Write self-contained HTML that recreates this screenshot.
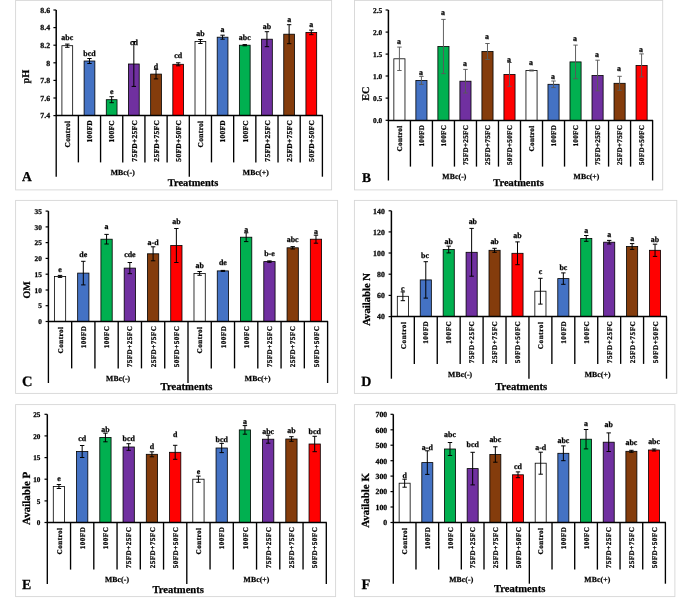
<!DOCTYPE html>
<html lang="en">
<head>
<meta charset="utf-8">
<title>Soil properties under treatments</title>
<style>
html,body{margin:0;padding:0;background:#fff;}
body{width:685px;height:607px;overflow:hidden;}
svg{display:block;opacity:0.999;will-change:transform;}
text{font-family:"Liberation Serif","DejaVu Serif",serif;font-weight:bold;fill:#000;text-rendering:geometricPrecision;stroke:#000;stroke-width:0.25px;}
.lt{font-size:7.9px;text-anchor:middle;}
.tk{font-size:8.2px;text-anchor:end;}
.ct{text-anchor:end;}
.gp{font-size:7.7px;text-anchor:middle;letter-spacing:0.12px;}
.tr{font-size:10.4px;text-anchor:middle;}
.yt{font-size:11.6px;text-anchor:middle;}
.pl{font-size:14.5px;text-anchor:start;}
</style>
</head>
<body>
<svg width="685" height="607" viewBox="0 0 685 607">
<rect x="0" y="0" width="685" height="607" fill="#fff"/>
<rect x="15.6" y="0.4" width="316" height="189.5" fill="#fff" stroke="#d6d6d6" stroke-width="0.9"/>
<rect x="61.91" y="45.7" width="10.76" height="69.9" fill="#ffffff" stroke="#000" stroke-width="0.8"/>
<rect x="84.1" y="61" width="10.76" height="54.6" fill="#4472c4" stroke="#000" stroke-width="0.8"/>
<rect x="106.28" y="99.7" width="10.76" height="15.9" fill="#00b050" stroke="#000" stroke-width="0.8"/>
<rect x="128.46" y="64" width="10.76" height="51.6" fill="#7030a0" stroke="#000" stroke-width="0.8"/>
<rect x="150.65" y="74.1" width="10.76" height="41.5" fill="#843c0c" stroke="#000" stroke-width="0.8"/>
<rect x="172.83" y="64.3" width="10.76" height="51.3" fill="#ff0000" stroke="#000" stroke-width="0.8"/>
<rect x="195.01" y="41.5" width="10.76" height="74.1" fill="#ffffff" stroke="#000" stroke-width="0.8"/>
<rect x="217.2" y="37.2" width="10.76" height="78.4" fill="#4472c4" stroke="#000" stroke-width="0.8"/>
<rect x="239.38" y="45.2" width="10.76" height="70.4" fill="#00b050" stroke="#000" stroke-width="0.8"/>
<rect x="261.56" y="39.2" width="10.76" height="76.4" fill="#7030a0" stroke="#000" stroke-width="0.8"/>
<rect x="283.75" y="34.2" width="10.76" height="81.4" fill="#843c0c" stroke="#000" stroke-width="0.8"/>
<rect x="305.93" y="32.4" width="10.76" height="83.2" fill="#ff0000" stroke="#000" stroke-width="0.8"/>
<path d="M67.29 44.1V47.3M65.09 44.1h4.4M65.09 47.3h4.4" stroke="#000" stroke-width="1.0" fill="none"/>
<text x="67.29" y="40.4" class="lt">abc</text>
<path d="M89.47 58.5V63.5M87.27 58.5h4.4M87.27 63.5h4.4" stroke="#000" stroke-width="1.0" fill="none"/>
<text x="89.47" y="55.5" class="lt">bcd</text>
<path d="M111.66 96.7V102.7M109.46 96.7h4.4M109.46 102.7h4.4" stroke="#000" stroke-width="1.0" fill="none"/>
<text x="111.66" y="94.2" class="lt">e</text>
<path d="M133.84 41.6V86.4M131.64 41.6h4.4M131.64 86.4h4.4" stroke="#000" stroke-width="1.0" fill="none"/>
<text x="133.84" y="44.9" class="lt">cd</text>
<path d="M156.03 69.3V78.9M153.83 69.3h4.4M153.83 78.9h4.4" stroke="#000" stroke-width="1.0" fill="none"/>
<text x="156.03" y="68.8" class="lt">d</text>
<path d="M178.21 62.8V65.8M176.01 62.8h4.4M176.01 65.8h4.4" stroke="#000" stroke-width="1.0" fill="none"/>
<text x="178.21" y="58" class="lt">cd</text>
<path d="M200.39 39.5V43.5M198.19 39.5h4.4M198.19 43.5h4.4" stroke="#000" stroke-width="1.0" fill="none"/>
<text x="200.39" y="35.6" class="lt">ab</text>
<path d="M222.57 35.2V39.2M220.38 35.2h4.4M220.38 39.2h4.4" stroke="#000" stroke-width="1.0" fill="none"/>
<text x="222.57" y="31.8" class="lt">a</text>
<path d="M244.76 44.6V45.8M242.56 44.6h4.4M242.56 45.8h4.4" stroke="#000" stroke-width="1.0" fill="none"/>
<text x="244.76" y="39.9" class="lt">abc</text>
<path d="M266.94 31.7V46.7M264.74 31.7h4.4M264.74 46.7h4.4" stroke="#000" stroke-width="1.0" fill="none"/>
<text x="266.94" y="28.8" class="lt">ab</text>
<path d="M289.12 24.7V43.7M286.93 24.7h4.4M286.93 43.7h4.4" stroke="#000" stroke-width="1.0" fill="none"/>
<text x="289.12" y="21.8" class="lt">a</text>
<path d="M311.31 30.1V34.7M309.11 30.1h4.4M309.11 34.7h4.4" stroke="#000" stroke-width="1.0" fill="none"/>
<text x="311.31" y="26.8" class="lt">a</text>
<path d="M56.2 10V115.6" stroke="#000" stroke-width="1.5" fill="none"/>
<path d="M56.2 10h-2.8" stroke="#000" stroke-width="1.2"/>
<text x="50.1" y="12.85" class="tk" style="font-size:7.8px">8.6</text>
<path d="M56.2 27.6h-2.8" stroke="#000" stroke-width="1.2"/>
<text x="50.1" y="30.45" class="tk" style="font-size:7.8px">8.4</text>
<path d="M56.2 45.2h-2.8" stroke="#000" stroke-width="1.2"/>
<text x="50.1" y="48.05" class="tk" style="font-size:7.8px">8.2</text>
<path d="M56.2 62.8h-2.8" stroke="#000" stroke-width="1.2"/>
<text x="50.1" y="65.65" class="tk" style="font-size:7.8px">8</text>
<path d="M56.2 80.4h-2.8" stroke="#000" stroke-width="1.2"/>
<text x="50.1" y="83.25" class="tk" style="font-size:7.8px">7.8</text>
<path d="M56.2 98h-2.8" stroke="#000" stroke-width="1.2"/>
<text x="50.1" y="100.85" class="tk" style="font-size:7.8px">7.6</text>
<path d="M56.2 115.6h-2.8" stroke="#000" stroke-width="1.2"/>
<text x="50.1" y="118.45" class="tk" style="font-size:7.8px">7.4</text>
<path d="M55.7 115.6H322.9" stroke="#000" stroke-width="1.5" fill="none"/>
<path d="M56.2 115.6V176.7" stroke="#000" stroke-width="1.35"/>
<path d="M78.38 115.6V162.4" stroke="#000" stroke-width="1.35"/>
<path d="M100.57 115.6V162.4" stroke="#000" stroke-width="1.35"/>
<path d="M122.75 115.6V162.4" stroke="#000" stroke-width="1.35"/>
<path d="M144.93 115.6V162.4" stroke="#000" stroke-width="1.35"/>
<path d="M167.12 115.6V162.4" stroke="#000" stroke-width="1.35"/>
<path d="M189.3 115.6V176.7" stroke="#000" stroke-width="1.35"/>
<path d="M211.48 115.6V162.4" stroke="#000" stroke-width="1.35"/>
<path d="M233.67 115.6V162.4" stroke="#000" stroke-width="1.35"/>
<path d="M255.85 115.6V162.4" stroke="#000" stroke-width="1.35"/>
<path d="M278.03 115.6V162.4" stroke="#000" stroke-width="1.35"/>
<path d="M300.22 115.6V162.4" stroke="#000" stroke-width="1.35"/>
<path d="M322.4 115.6V176.7" stroke="#000" stroke-width="1.35"/>
<text transform="translate(70.04 120.73) rotate(-90)" class="ct" style="font-size:7.5px;letter-spacing:0.27px">Control</text>
<text transform="translate(92.22 119.93) rotate(-90)" class="ct" style="font-size:7.5px;letter-spacing:0.27px">100FD</text>
<text transform="translate(114.41 119.93) rotate(-90)" class="ct" style="font-size:7.5px;letter-spacing:0.27px">100FC</text>
<text transform="translate(136.59 119.93) rotate(-90)" class="ct" style="font-size:7.5px;letter-spacing:0.27px">75FD+25FC</text>
<text transform="translate(158.78 119.93) rotate(-90)" class="ct" style="font-size:7.5px;letter-spacing:0.27px">25FD+75FC</text>
<text transform="translate(180.96 119.93) rotate(-90)" class="ct" style="font-size:7.5px;letter-spacing:0.27px">50FD+50FC</text>
<text transform="translate(203.14 120.73) rotate(-90)" class="ct" style="font-size:7.5px;letter-spacing:0.27px">Control</text>
<text transform="translate(225.32 119.93) rotate(-90)" class="ct" style="font-size:7.5px;letter-spacing:0.27px">100FD</text>
<text transform="translate(247.51 119.93) rotate(-90)" class="ct" style="font-size:7.5px;letter-spacing:0.27px">100FC</text>
<text transform="translate(269.69 119.93) rotate(-90)" class="ct" style="font-size:7.5px;letter-spacing:0.27px">75FD+25FC</text>
<text transform="translate(291.88 119.93) rotate(-90)" class="ct" style="font-size:7.5px;letter-spacing:0.27px">25FD+75FC</text>
<text transform="translate(314.06 119.93) rotate(-90)" class="ct" style="font-size:7.5px;letter-spacing:0.27px">50FD+50FC</text>
<text x="122.75" y="174.6" class="gp">MBc(-)</text>
<text x="255.85" y="174.6" class="gp">MBc(+)</text>
<text x="193" y="186" class="tr" style="font-size:10.4px">Treatments</text>
<text transform="translate(29.2 76.6) rotate(-90)" class="yt" style="font-size:10.3px">pH</text>
<text x="22.1" y="181.2" class="pl" style="font-size:13.5px">A</text>
<rect x="354.5" y="0.4" width="308.2" height="189.5" fill="#fff" stroke="#d6d6d6" stroke-width="0.9"/>
<rect x="393.85" y="58.8" width="11.12" height="61.6" fill="#ffffff" stroke="#000" stroke-width="0.8"/>
<rect x="415.87" y="80.4" width="11.12" height="40" fill="#4472c4" stroke="#000" stroke-width="0.8"/>
<rect x="437.88" y="46.5" width="11.12" height="73.9" fill="#00b050" stroke="#000" stroke-width="0.8"/>
<rect x="459.9" y="81.2" width="11.12" height="39.2" fill="#7030a0" stroke="#000" stroke-width="0.8"/>
<rect x="481.92" y="51.5" width="11.12" height="68.9" fill="#843c0c" stroke="#000" stroke-width="0.8"/>
<rect x="503.93" y="74.4" width="11.12" height="46" fill="#ff0000" stroke="#000" stroke-width="0.8"/>
<rect x="525.95" y="70.5" width="11.12" height="49.9" fill="#ffffff" stroke="#000" stroke-width="0.8"/>
<rect x="547.97" y="84.3" width="11.12" height="36.1" fill="#4472c4" stroke="#000" stroke-width="0.8"/>
<rect x="569.98" y="61.9" width="11.12" height="58.5" fill="#00b050" stroke="#000" stroke-width="0.8"/>
<rect x="592" y="75.5" width="11.12" height="44.9" fill="#7030a0" stroke="#000" stroke-width="0.8"/>
<rect x="614.02" y="83.3" width="11.12" height="37.1" fill="#843c0c" stroke="#000" stroke-width="0.8"/>
<rect x="636.03" y="65.4" width="11.12" height="55" fill="#ff0000" stroke="#000" stroke-width="0.8"/>
<path d="M399.41 47.1V70.5M397.21 47.1h4.4M397.21 70.5h4.4" stroke="#595959" stroke-width="0.95" fill="none"/>
<text x="398.91" y="43.7" class="lt">a</text>
<path d="M421.42 76.4V84.4M419.22 76.4h4.4M419.22 84.4h4.4" stroke="#595959" stroke-width="0.95" fill="none"/>
<text x="420.92" y="75.1" class="lt">a</text>
<path d="M443.44 19.4V73.6M441.24 19.4h4.4M441.24 73.6h4.4" stroke="#595959" stroke-width="0.95" fill="none"/>
<text x="442.94" y="14.8" class="lt">a</text>
<path d="M465.46 69.4V93M463.26 69.4h4.4M463.26 93h4.4" stroke="#595959" stroke-width="0.95" fill="none"/>
<text x="464.96" y="66.2" class="lt">a</text>
<path d="M487.48 43.5V59.5M485.28 43.5h4.4M485.28 59.5h4.4" stroke="#595959" stroke-width="0.95" fill="none"/>
<text x="486.98" y="38.6" class="lt">a</text>
<path d="M509.49 62.5V86.3M507.29 62.5h4.4M507.29 86.3h4.4" stroke="#595959" stroke-width="0.95" fill="none"/>
<text x="508.99" y="61.5" class="lt">a</text>
<path d="M531.51 70V71M529.31 70h4.4M529.31 71h4.4" stroke="#595959" stroke-width="0.95" fill="none"/>
<text x="531.01" y="65.3" class="lt">a</text>
<path d="M553.52 81V87.6M551.32 81h4.4M551.32 87.6h4.4" stroke="#595959" stroke-width="0.95" fill="none"/>
<text x="553.02" y="79" class="lt">a</text>
<path d="M575.54 45.1V78.7M573.34 45.1h4.4M573.34 78.7h4.4" stroke="#595959" stroke-width="0.95" fill="none"/>
<text x="575.04" y="41.3" class="lt">a</text>
<path d="M597.56 60.2V90.8M595.36 60.2h4.4M595.36 90.8h4.4" stroke="#595959" stroke-width="0.95" fill="none"/>
<text x="597.06" y="57.2" class="lt">a</text>
<path d="M619.58 76.3V90.3M617.38 76.3h4.4M617.38 90.3h4.4" stroke="#595959" stroke-width="0.95" fill="none"/>
<text x="619.08" y="70.6" class="lt">a</text>
<path d="M641.59 53.9V76.9M639.39 53.9h4.4M639.39 76.9h4.4" stroke="#595959" stroke-width="0.95" fill="none"/>
<text x="641.09" y="51.9" class="lt">a</text>
<path d="M388.4 10V120.4" stroke="#000" stroke-width="1.5" fill="none"/>
<path d="M388.4 10h-2.8" stroke="#000" stroke-width="1.2"/>
<text x="382.2" y="12.72" class="tk" style="font-size:7.4px">2.5</text>
<path d="M388.4 32.1h-2.8" stroke="#000" stroke-width="1.2"/>
<text x="382.2" y="34.82" class="tk" style="font-size:7.4px">2.0</text>
<path d="M388.4 54.1h-2.8" stroke="#000" stroke-width="1.2"/>
<text x="382.2" y="56.82" class="tk" style="font-size:7.4px">1.5</text>
<path d="M388.4 76h-2.8" stroke="#000" stroke-width="1.2"/>
<text x="382.2" y="78.72" class="tk" style="font-size:7.4px">1.0</text>
<path d="M388.4 98.1h-2.8" stroke="#000" stroke-width="1.2"/>
<text x="382.2" y="100.82" class="tk" style="font-size:7.4px">0.5</text>
<path d="M388.4 120.3h-2.8" stroke="#000" stroke-width="1.2"/>
<text x="382.2" y="123.02" class="tk" style="font-size:7.4px">0.0</text>
<path d="M387.9 120.4H653.1" stroke="#000" stroke-width="1.5" fill="none"/>
<path d="M388.4 120.4V180.5" stroke="#000" stroke-width="1.35"/>
<path d="M410.42 120.4V166.6" stroke="#000" stroke-width="1.35"/>
<path d="M432.43 120.4V166.6" stroke="#000" stroke-width="1.35"/>
<path d="M454.45 120.4V166.6" stroke="#000" stroke-width="1.35"/>
<path d="M476.47 120.4V166.6" stroke="#000" stroke-width="1.35"/>
<path d="M498.48 120.4V166.6" stroke="#000" stroke-width="1.35"/>
<path d="M520.5 120.4V180.5" stroke="#000" stroke-width="1.35"/>
<path d="M542.52 120.4V166.6" stroke="#000" stroke-width="1.35"/>
<path d="M564.53 120.4V166.6" stroke="#000" stroke-width="1.35"/>
<path d="M586.55 120.4V166.6" stroke="#000" stroke-width="1.35"/>
<path d="M608.57 120.4V166.6" stroke="#000" stroke-width="1.35"/>
<path d="M630.58 120.4V166.6" stroke="#000" stroke-width="1.35"/>
<path d="M652.6 120.4V180.5" stroke="#000" stroke-width="1.35"/>
<text transform="translate(402.06 125.5) rotate(-90)" class="ct" style="font-size:7.2px;letter-spacing:0.3px">Control</text>
<text transform="translate(424.07 124.7) rotate(-90)" class="ct" style="font-size:7.2px;letter-spacing:0.3px">100FD</text>
<text transform="translate(446.09 124.7) rotate(-90)" class="ct" style="font-size:7.2px;letter-spacing:0.3px">100FC</text>
<text transform="translate(468.11 124.7) rotate(-90)" class="ct" style="font-size:7.2px;letter-spacing:0.3px">75FD+25FC</text>
<text transform="translate(490.12 124.7) rotate(-90)" class="ct" style="font-size:7.2px;letter-spacing:0.3px">25FD+75FC</text>
<text transform="translate(512.14 124.7) rotate(-90)" class="ct" style="font-size:7.2px;letter-spacing:0.3px">50FD+50FC</text>
<text transform="translate(534.16 125.5) rotate(-90)" class="ct" style="font-size:7.2px;letter-spacing:0.3px">Control</text>
<text transform="translate(556.17 124.7) rotate(-90)" class="ct" style="font-size:7.2px;letter-spacing:0.3px">100FD</text>
<text transform="translate(578.19 124.7) rotate(-90)" class="ct" style="font-size:7.2px;letter-spacing:0.3px">100FC</text>
<text transform="translate(600.21 124.7) rotate(-90)" class="ct" style="font-size:7.2px;letter-spacing:0.3px">75FD+25FC</text>
<text transform="translate(622.22 124.7) rotate(-90)" class="ct" style="font-size:7.2px;letter-spacing:0.3px">25FD+75FC</text>
<text transform="translate(644.24 124.7) rotate(-90)" class="ct" style="font-size:7.2px;letter-spacing:0.3px">50FD+50FC</text>
<text x="454.45" y="179.1" class="gp">MBc(-)</text>
<text x="586.55" y="179.1" class="gp">MBc(+)</text>
<text x="518.5" y="186.2" class="tr" style="font-size:10.4px">Treatments</text>
<text transform="translate(369.2 93.6) rotate(-90)" class="yt" style="font-size:10.3px">EC</text>
<text x="362" y="182" class="pl" style="font-size:13.5px">B</text>
<rect x="15.6" y="200.4" width="322" height="193" fill="#fff" stroke="#d6d6d6" stroke-width="0.9"/>
<rect x="54.39" y="276.4" width="11.28" height="45.1" fill="#ffffff" stroke="#000" stroke-width="0.8"/>
<rect x="77.66" y="273.1" width="11.28" height="48.4" fill="#4472c4" stroke="#000" stroke-width="0.8"/>
<rect x="100.92" y="239.2" width="11.28" height="82.3" fill="#00b050" stroke="#000" stroke-width="0.8"/>
<rect x="124.19" y="268.1" width="11.28" height="53.4" fill="#7030a0" stroke="#000" stroke-width="0.8"/>
<rect x="147.46" y="253.8" width="11.28" height="67.7" fill="#843c0c" stroke="#000" stroke-width="0.8"/>
<rect x="170.72" y="245.5" width="11.28" height="76" fill="#ff0000" stroke="#000" stroke-width="0.8"/>
<rect x="193.99" y="273.4" width="11.28" height="48.1" fill="#ffffff" stroke="#000" stroke-width="0.8"/>
<rect x="217.26" y="270.9" width="11.28" height="50.6" fill="#4472c4" stroke="#000" stroke-width="0.8"/>
<rect x="240.52" y="237.2" width="11.28" height="84.3" fill="#00b050" stroke="#000" stroke-width="0.8"/>
<rect x="263.79" y="261.6" width="11.28" height="59.9" fill="#7030a0" stroke="#000" stroke-width="0.8"/>
<rect x="287.06" y="247.8" width="11.28" height="73.7" fill="#843c0c" stroke="#000" stroke-width="0.8"/>
<rect x="310.32" y="239.2" width="11.28" height="82.3" fill="#ff0000" stroke="#000" stroke-width="0.8"/>
<path d="M60.03 275.4V277.4M57.83 275.4h4.4M57.83 277.4h4.4" stroke="#000" stroke-width="1.0" fill="none"/>
<text x="60.03" y="271.8" class="lt">e</text>
<path d="M83.3 261.3V284.9M81.1 261.3h4.4M81.1 284.9h4.4" stroke="#000" stroke-width="1.0" fill="none"/>
<text x="83.3" y="257" class="lt">de</text>
<path d="M106.57 234.4V244M104.37 234.4h4.4M104.37 244h4.4" stroke="#000" stroke-width="1.0" fill="none"/>
<text x="106.57" y="229.4" class="lt">a</text>
<path d="M129.83 262.5V273.7M127.63 262.5h4.4M127.63 273.7h4.4" stroke="#000" stroke-width="1.0" fill="none"/>
<text x="129.83" y="256.7" class="lt">cde</text>
<path d="M153.1 246.8V260.8M150.9 246.8h4.4M150.9 260.8h4.4" stroke="#000" stroke-width="1.0" fill="none"/>
<text x="153.1" y="245.4" class="lt">a-d</text>
<path d="M176.37 228.5V262.5M174.17 228.5h4.4M174.17 262.5h4.4" stroke="#000" stroke-width="1.0" fill="none"/>
<text x="176.37" y="224.3" class="lt">ab</text>
<path d="M199.63 271.5V275.3M197.43 271.5h4.4M197.43 275.3h4.4" stroke="#000" stroke-width="1.0" fill="none"/>
<text x="199.63" y="267.6" class="lt">ab</text>
<path d="M222.9 270.4V271.4M220.7 270.4h4.4M220.7 271.4h4.4" stroke="#000" stroke-width="1.0" fill="none"/>
<text x="222.9" y="265" class="lt">de</text>
<path d="M246.17 232.8V241.6M243.97 232.8h4.4M243.97 241.6h4.4" stroke="#000" stroke-width="1.0" fill="none"/>
<text x="246.17" y="231.6" class="lt">a</text>
<path d="M269.43 260.9V262.3M267.23 260.9h4.4M267.23 262.3h4.4" stroke="#000" stroke-width="1.0" fill="none"/>
<text x="269.43" y="255.7" class="lt">b-e</text>
<path d="M292.7 246.6V249M290.5 246.6h4.4M290.5 249h4.4" stroke="#000" stroke-width="1.0" fill="none"/>
<text x="292.7" y="241.9" class="lt">abc</text>
<path d="M315.97 235.2V243.2M313.77 235.2h4.4M313.77 243.2h4.4" stroke="#000" stroke-width="1.0" fill="none"/>
<text x="315.97" y="234.1" class="lt">a</text>
<path d="M48.4 211.1V321.5" stroke="#000" stroke-width="1.5" fill="none"/>
<path d="M48.4 211.1h-2.8" stroke="#000" stroke-width="1.2"/>
<text x="41.8" y="213.78" class="tk" style="font-size:7.3px">35</text>
<path d="M48.4 226.9h-2.8" stroke="#000" stroke-width="1.2"/>
<text x="41.8" y="229.58" class="tk" style="font-size:7.3px">30</text>
<path d="M48.4 242.6h-2.8" stroke="#000" stroke-width="1.2"/>
<text x="41.8" y="245.28" class="tk" style="font-size:7.3px">25</text>
<path d="M48.4 258.4h-2.8" stroke="#000" stroke-width="1.2"/>
<text x="41.8" y="261.08" class="tk" style="font-size:7.3px">20</text>
<path d="M48.4 274.2h-2.8" stroke="#000" stroke-width="1.2"/>
<text x="41.8" y="276.88" class="tk" style="font-size:7.3px">15</text>
<path d="M48.4 290h-2.8" stroke="#000" stroke-width="1.2"/>
<text x="41.8" y="292.68" class="tk" style="font-size:7.3px">10</text>
<path d="M48.4 305.7h-2.8" stroke="#000" stroke-width="1.2"/>
<text x="41.8" y="308.38" class="tk" style="font-size:7.3px">5</text>
<path d="M48.4 321.5h-2.8" stroke="#000" stroke-width="1.2"/>
<text x="41.8" y="324.18" class="tk" style="font-size:7.3px">0</text>
<path d="M47.9 321.5H328.1" stroke="#000" stroke-width="1.5" fill="none"/>
<path d="M48.4 321.5V383" stroke="#000" stroke-width="1.35"/>
<path d="M71.67 321.5V368.4" stroke="#000" stroke-width="1.35"/>
<path d="M94.93 321.5V368.4" stroke="#000" stroke-width="1.35"/>
<path d="M118.2 321.5V368.4" stroke="#000" stroke-width="1.35"/>
<path d="M141.47 321.5V368.4" stroke="#000" stroke-width="1.35"/>
<path d="M164.73 321.5V368.4" stroke="#000" stroke-width="1.35"/>
<path d="M188 321.5V383" stroke="#000" stroke-width="1.35"/>
<path d="M211.27 321.5V368.4" stroke="#000" stroke-width="1.35"/>
<path d="M234.53 321.5V368.4" stroke="#000" stroke-width="1.35"/>
<path d="M257.8 321.5V368.4" stroke="#000" stroke-width="1.35"/>
<path d="M281.07 321.5V368.4" stroke="#000" stroke-width="1.35"/>
<path d="M304.33 321.5V368.4" stroke="#000" stroke-width="1.35"/>
<path d="M327.6 321.5V383" stroke="#000" stroke-width="1.35"/>
<text transform="translate(62.68 326.45) rotate(-90)" class="ct" style="font-size:7.2px;letter-spacing:0.45px">Control</text>
<text transform="translate(85.95 325.65) rotate(-90)" class="ct" style="font-size:7.2px;letter-spacing:0.45px">100FD</text>
<text transform="translate(109.21 325.65) rotate(-90)" class="ct" style="font-size:7.2px;letter-spacing:0.45px">100FC</text>
<text transform="translate(132.48 325.65) rotate(-90)" class="ct" style="font-size:7.2px;letter-spacing:0.45px">75FD+25FC</text>
<text transform="translate(155.75 325.65) rotate(-90)" class="ct" style="font-size:7.2px;letter-spacing:0.45px">25FD+75FC</text>
<text transform="translate(179.01 325.65) rotate(-90)" class="ct" style="font-size:7.2px;letter-spacing:0.45px">50FD+50FC</text>
<text transform="translate(202.28 326.45) rotate(-90)" class="ct" style="font-size:7.2px;letter-spacing:0.45px">Control</text>
<text transform="translate(225.55 325.65) rotate(-90)" class="ct" style="font-size:7.2px;letter-spacing:0.45px">100FD</text>
<text transform="translate(248.81 325.65) rotate(-90)" class="ct" style="font-size:7.2px;letter-spacing:0.45px">100FC</text>
<text transform="translate(272.08 325.65) rotate(-90)" class="ct" style="font-size:7.2px;letter-spacing:0.45px">75FD+25FC</text>
<text transform="translate(295.35 325.65) rotate(-90)" class="ct" style="font-size:7.2px;letter-spacing:0.45px">25FD+75FC</text>
<text transform="translate(318.61 325.65) rotate(-90)" class="ct" style="font-size:7.2px;letter-spacing:0.45px">50FD+50FC</text>
<text x="118.2" y="381.1" class="gp">MBc(-)</text>
<text x="257.8" y="381.1" class="gp">MBc(+)</text>
<text x="186.5" y="389.9" class="tr" style="font-size:10.7px">Treatments</text>
<text transform="translate(29.7 290) rotate(-90)" class="yt" style="font-size:10px">OM</text>
<text x="22" y="386" class="pl" style="font-size:14.5px">C</text>
<rect x="354.4" y="200.4" width="322.4" height="193" fill="#fff" stroke="#d6d6d6" stroke-width="0.9"/>
<rect x="397.3" y="296.3" width="11.12" height="20.3" fill="#ffffff" stroke="#000" stroke-width="0.8"/>
<rect x="420.23" y="279.9" width="11.12" height="36.7" fill="#4472c4" stroke="#000" stroke-width="0.8"/>
<rect x="443.15" y="249.5" width="11.12" height="67.1" fill="#00b050" stroke="#000" stroke-width="0.8"/>
<rect x="466.08" y="252.3" width="11.12" height="64.3" fill="#7030a0" stroke="#000" stroke-width="0.8"/>
<rect x="489" y="250.3" width="11.12" height="66.3" fill="#843c0c" stroke="#000" stroke-width="0.8"/>
<rect x="511.93" y="253.3" width="11.12" height="63.3" fill="#ff0000" stroke="#000" stroke-width="0.8"/>
<rect x="534.85" y="291.2" width="11.12" height="25.4" fill="#ffffff" stroke="#000" stroke-width="0.8"/>
<rect x="557.78" y="278.6" width="11.12" height="38" fill="#4472c4" stroke="#000" stroke-width="0.8"/>
<rect x="580.7" y="238.4" width="11.12" height="78.2" fill="#00b050" stroke="#000" stroke-width="0.8"/>
<rect x="603.63" y="242.2" width="11.12" height="74.4" fill="#7030a0" stroke="#000" stroke-width="0.8"/>
<rect x="626.55" y="246.5" width="11.12" height="70.1" fill="#843c0c" stroke="#000" stroke-width="0.8"/>
<rect x="649.48" y="250.3" width="11.12" height="66.3" fill="#ff0000" stroke="#000" stroke-width="0.8"/>
<path d="M402.86 291.9V300.7M400.66 291.9h4.4M400.66 300.7h4.4" stroke="#000" stroke-width="1.0" fill="none"/>
<text x="402.86" y="291.4" class="lt">c</text>
<path d="M425.79 261.7V298.1M423.59 261.7h4.4M423.59 298.1h4.4" stroke="#000" stroke-width="1.0" fill="none"/>
<text x="424.99" y="258" class="lt">bc</text>
<path d="M448.71 246.1V252.9M446.51 246.1h4.4M446.51 252.9h4.4" stroke="#000" stroke-width="1.0" fill="none"/>
<text x="448.71" y="243.7" class="lt">ab</text>
<path d="M471.64 228.4V276.2M469.44 228.4h4.4M469.44 276.2h4.4" stroke="#000" stroke-width="1.0" fill="none"/>
<text x="472.84" y="223.6" class="lt">ab</text>
<path d="M494.56 248.3V252.3M492.36 248.3h4.4M492.36 252.3h4.4" stroke="#000" stroke-width="1.0" fill="none"/>
<text x="494.56" y="244.2" class="lt">ab</text>
<path d="M517.49 241.9V264.7M515.29 241.9h4.4M515.29 264.7h4.4" stroke="#000" stroke-width="1.0" fill="none"/>
<text x="517.49" y="237.6" class="lt">ab</text>
<path d="M540.41 278.3V304.1M538.21 278.3h4.4M538.21 304.1h4.4" stroke="#000" stroke-width="1.0" fill="none"/>
<text x="540.41" y="274.2" class="lt">c</text>
<path d="M563.34 272.9V284.3M561.14 272.9h4.4M561.14 284.3h4.4" stroke="#000" stroke-width="1.0" fill="none"/>
<text x="563.34" y="269.9" class="lt">bc</text>
<path d="M586.26 235.5V241.3M584.06 235.5h4.4M584.06 241.3h4.4" stroke="#000" stroke-width="1.0" fill="none"/>
<text x="586.26" y="233.1" class="lt">a</text>
<path d="M609.19 240.4V244M606.99 240.4h4.4M606.99 244h4.4" stroke="#000" stroke-width="1.0" fill="none"/>
<text x="609.19" y="236.8" class="lt">a</text>
<path d="M632.11 243.6V249.4M629.91 243.6h4.4M629.91 249.4h4.4" stroke="#000" stroke-width="1.0" fill="none"/>
<text x="632.11" y="241.4" class="lt">a</text>
<path d="M655.04 244.2V256.4M652.84 244.2h4.4M652.84 256.4h4.4" stroke="#000" stroke-width="1.0" fill="none"/>
<text x="655.04" y="241.9" class="lt">ab</text>
<path d="M391.4 210.8V316.6" stroke="#000" stroke-width="1.5" fill="none"/>
<path d="M391.4 210.8h-2.8" stroke="#000" stroke-width="1.2"/>
<text x="384.8" y="213.65" class="tk" style="font-size:7.8px">140</text>
<path d="M391.4 231.9h-2.8" stroke="#000" stroke-width="1.2"/>
<text x="384.8" y="234.75" class="tk" style="font-size:7.8px">120</text>
<path d="M391.4 253h-2.8" stroke="#000" stroke-width="1.2"/>
<text x="384.8" y="255.85" class="tk" style="font-size:7.8px">100</text>
<path d="M391.4 274.2h-2.8" stroke="#000" stroke-width="1.2"/>
<text x="384.8" y="277.05" class="tk" style="font-size:7.8px">80</text>
<path d="M391.4 295.4h-2.8" stroke="#000" stroke-width="1.2"/>
<text x="384.8" y="298.25" class="tk" style="font-size:7.8px">60</text>
<path d="M391.4 316.6h-2.8" stroke="#000" stroke-width="1.2"/>
<text x="384.8" y="319.45" class="tk" style="font-size:7.8px">40</text>
<path d="M390.9 316.6H667" stroke="#000" stroke-width="1.5" fill="none"/>
<path d="M391.4 316.6V378.7" stroke="#000" stroke-width="1.35"/>
<path d="M414.32 316.6V363.9" stroke="#000" stroke-width="1.35"/>
<path d="M437.25 316.6V363.9" stroke="#000" stroke-width="1.35"/>
<path d="M460.17 316.6V363.9" stroke="#000" stroke-width="1.35"/>
<path d="M483.1 316.6V363.9" stroke="#000" stroke-width="1.35"/>
<path d="M506.02 316.6V363.9" stroke="#000" stroke-width="1.35"/>
<path d="M528.95 316.6V378.7" stroke="#000" stroke-width="1.35"/>
<path d="M551.88 316.6V363.9" stroke="#000" stroke-width="1.35"/>
<path d="M574.8 316.6V363.9" stroke="#000" stroke-width="1.35"/>
<path d="M597.73 316.6V363.9" stroke="#000" stroke-width="1.35"/>
<path d="M620.65 316.6V363.9" stroke="#000" stroke-width="1.35"/>
<path d="M643.58 316.6V363.9" stroke="#000" stroke-width="1.35"/>
<path d="M666.5 316.6V378.7" stroke="#000" stroke-width="1.35"/>
<text transform="translate(405.51 321.45) rotate(-90)" class="ct" style="font-size:7.2px;letter-spacing:0.55px">Control</text>
<text transform="translate(428.44 320.65) rotate(-90)" class="ct" style="font-size:7.2px;letter-spacing:0.55px">100FD</text>
<text transform="translate(451.36 320.65) rotate(-90)" class="ct" style="font-size:7.2px;letter-spacing:0.55px">100FC</text>
<text transform="translate(474.29 320.65) rotate(-90)" class="ct" style="font-size:7.2px;letter-spacing:0.55px">75FD+25FC</text>
<text transform="translate(497.21 320.65) rotate(-90)" class="ct" style="font-size:7.2px;letter-spacing:0.55px">25FD+75FC</text>
<text transform="translate(520.14 320.65) rotate(-90)" class="ct" style="font-size:7.2px;letter-spacing:0.55px">50FD+50FC</text>
<text transform="translate(543.06 321.45) rotate(-90)" class="ct" style="font-size:7.2px;letter-spacing:0.55px">Control</text>
<text transform="translate(565.99 320.65) rotate(-90)" class="ct" style="font-size:7.2px;letter-spacing:0.55px">100FD</text>
<text transform="translate(588.91 320.65) rotate(-90)" class="ct" style="font-size:7.2px;letter-spacing:0.55px">100FC</text>
<text transform="translate(611.84 320.65) rotate(-90)" class="ct" style="font-size:7.2px;letter-spacing:0.55px">75FD+25FC</text>
<text transform="translate(634.76 320.65) rotate(-90)" class="ct" style="font-size:7.2px;letter-spacing:0.55px">25FD+75FC</text>
<text transform="translate(657.69 320.65) rotate(-90)" class="ct" style="font-size:7.2px;letter-spacing:0.55px">50FD+50FC</text>
<text x="460.17" y="376.6" class="gp">MBc(-)</text>
<text x="597.73" y="376.6" class="gp">MBc(+)</text>
<text x="521.2" y="390.2" class="tr" style="font-size:10.7px">Treatments</text>
<text transform="translate(370.13 299.4) rotate(-90)" class="yt" style="font-size:10.7px">Available N</text>
<text x="361.3" y="386" class="pl" style="font-size:14px">D</text>
<rect x="15.6" y="404.6" width="320" height="192" fill="#fff" stroke="#d6d6d6" stroke-width="0.9"/>
<rect x="53.29" y="486.5" width="11.28" height="36" fill="#ffffff" stroke="#000" stroke-width="0.8"/>
<rect x="76.54" y="451.5" width="11.28" height="71" fill="#4472c4" stroke="#000" stroke-width="0.8"/>
<rect x="99.79" y="437.5" width="11.28" height="85" fill="#00b050" stroke="#000" stroke-width="0.8"/>
<rect x="123.04" y="447" width="11.28" height="75.5" fill="#7030a0" stroke="#000" stroke-width="0.8"/>
<rect x="146.29" y="454.3" width="11.28" height="68.2" fill="#843c0c" stroke="#000" stroke-width="0.8"/>
<rect x="169.54" y="452.3" width="11.28" height="70.2" fill="#ff0000" stroke="#000" stroke-width="0.8"/>
<rect x="192.79" y="479.2" width="11.28" height="43.3" fill="#ffffff" stroke="#000" stroke-width="0.8"/>
<rect x="216.04" y="448" width="11.28" height="74.5" fill="#4472c4" stroke="#000" stroke-width="0.8"/>
<rect x="239.29" y="429.9" width="11.28" height="92.6" fill="#00b050" stroke="#000" stroke-width="0.8"/>
<rect x="262.54" y="439.2" width="11.28" height="83.3" fill="#7030a0" stroke="#000" stroke-width="0.8"/>
<rect x="285.79" y="439" width="11.28" height="83.5" fill="#843c0c" stroke="#000" stroke-width="0.8"/>
<rect x="309.04" y="444" width="11.28" height="78.5" fill="#ff0000" stroke="#000" stroke-width="0.8"/>
<path d="M58.92 484.5V488.5M56.72 484.5h4.4M56.72 488.5h4.4" stroke="#000" stroke-width="1.0" fill="none"/>
<text x="58.92" y="481.4" class="lt">e</text>
<path d="M82.17 445.5V457.5M79.97 445.5h4.4M79.97 457.5h4.4" stroke="#000" stroke-width="1.0" fill="none"/>
<text x="82.17" y="441.2" class="lt">cd</text>
<path d="M105.42 433.2V441.8M103.22 433.2h4.4M103.22 441.8h4.4" stroke="#000" stroke-width="1.0" fill="none"/>
<text x="105.42" y="431.9" class="lt">ab</text>
<path d="M128.68 443.7V450.3M126.48 443.7h4.4M126.48 450.3h4.4" stroke="#000" stroke-width="1.0" fill="none"/>
<text x="128.68" y="441.2" class="lt">bcd</text>
<path d="M151.93 451.8V456.8M149.73 451.8h4.4M149.73 456.8h4.4" stroke="#000" stroke-width="1.0" fill="none"/>
<text x="151.93" y="448.7" class="lt">d</text>
<path d="M175.18 445.3V459.3M172.98 445.3h4.4M172.98 459.3h4.4" stroke="#000" stroke-width="1.0" fill="none"/>
<text x="175.18" y="437.4" class="lt">d</text>
<path d="M198.43 476.1V482.3M196.23 476.1h4.4M196.23 482.3h4.4" stroke="#000" stroke-width="1.0" fill="none"/>
<text x="198.43" y="474.1" class="lt">e</text>
<path d="M221.68 443.4V452.6M219.48 443.4h4.4M219.48 452.6h4.4" stroke="#000" stroke-width="1.0" fill="none"/>
<text x="221.68" y="441.9" class="lt">bcd</text>
<path d="M244.93 425.6V434.2M242.73 425.6h4.4M242.73 434.2h4.4" stroke="#000" stroke-width="1.0" fill="none"/>
<text x="244.93" y="424.1" class="lt">a</text>
<path d="M268.18 435.2V443.2M265.98 435.2h4.4M265.98 443.2h4.4" stroke="#000" stroke-width="1.0" fill="none"/>
<text x="268.18" y="433.9" class="lt">abc</text>
<path d="M291.43 436.7V441.3M289.23 436.7h4.4M289.23 441.3h4.4" stroke="#000" stroke-width="1.0" fill="none"/>
<text x="291.43" y="433.1" class="lt">ab</text>
<path d="M314.68 436.3V451.7M312.48 436.3h4.4M312.48 451.7h4.4" stroke="#000" stroke-width="1.0" fill="none"/>
<text x="314.68" y="433.6" class="lt">bcd</text>
<path d="M47.3 414.3V522.5" stroke="#000" stroke-width="1.5" fill="none"/>
<path d="M47.3 414.3h-2.8" stroke="#000" stroke-width="1.2"/>
<text x="40.4" y="416.95" class="tk" style="font-size:7.2px">25</text>
<path d="M47.3 435.9h-2.8" stroke="#000" stroke-width="1.2"/>
<text x="40.4" y="438.55" class="tk" style="font-size:7.2px">20</text>
<path d="M47.3 457.6h-2.8" stroke="#000" stroke-width="1.2"/>
<text x="40.4" y="460.25" class="tk" style="font-size:7.2px">15</text>
<path d="M47.3 479.2h-2.8" stroke="#000" stroke-width="1.2"/>
<text x="40.4" y="481.85" class="tk" style="font-size:7.2px">10</text>
<path d="M47.3 500.9h-2.8" stroke="#000" stroke-width="1.2"/>
<text x="40.4" y="503.55" class="tk" style="font-size:7.2px">5</text>
<path d="M47.3 522.5h-2.8" stroke="#000" stroke-width="1.2"/>
<text x="40.4" y="525.15" class="tk" style="font-size:7.2px">0</text>
<path d="M46.8 522.5H326.8" stroke="#000" stroke-width="1.5" fill="none"/>
<path d="M47.3 522.5V583.9" stroke="#000" stroke-width="1.35"/>
<path d="M70.55 522.5V569.6" stroke="#000" stroke-width="1.35"/>
<path d="M93.8 522.5V569.6" stroke="#000" stroke-width="1.35"/>
<path d="M117.05 522.5V569.6" stroke="#000" stroke-width="1.35"/>
<path d="M140.3 522.5V569.6" stroke="#000" stroke-width="1.35"/>
<path d="M163.55 522.5V569.6" stroke="#000" stroke-width="1.35"/>
<path d="M186.8 522.5V583.9" stroke="#000" stroke-width="1.35"/>
<path d="M210.05 522.5V569.6" stroke="#000" stroke-width="1.35"/>
<path d="M233.3 522.5V569.6" stroke="#000" stroke-width="1.35"/>
<path d="M256.55 522.5V569.6" stroke="#000" stroke-width="1.35"/>
<path d="M279.8 522.5V569.6" stroke="#000" stroke-width="1.35"/>
<path d="M303.05 522.5V569.6" stroke="#000" stroke-width="1.35"/>
<path d="M326.3 522.5V583.9" stroke="#000" stroke-width="1.35"/>
<text transform="translate(61.57 527.45) rotate(-90)" class="ct" style="font-size:7.2px;letter-spacing:0.45px">Control</text>
<text transform="translate(84.82 526.65) rotate(-90)" class="ct" style="font-size:7.2px;letter-spacing:0.45px">100FD</text>
<text transform="translate(108.07 526.65) rotate(-90)" class="ct" style="font-size:7.2px;letter-spacing:0.45px">100FC</text>
<text transform="translate(131.32 526.65) rotate(-90)" class="ct" style="font-size:7.2px;letter-spacing:0.45px">75FD+25FC</text>
<text transform="translate(154.57 526.65) rotate(-90)" class="ct" style="font-size:7.2px;letter-spacing:0.45px">25FD+75FC</text>
<text transform="translate(177.82 526.65) rotate(-90)" class="ct" style="font-size:7.2px;letter-spacing:0.45px">50FD+50FC</text>
<text transform="translate(201.07 527.45) rotate(-90)" class="ct" style="font-size:7.2px;letter-spacing:0.45px">Control</text>
<text transform="translate(224.32 526.65) rotate(-90)" class="ct" style="font-size:7.2px;letter-spacing:0.45px">100FD</text>
<text transform="translate(247.57 526.65) rotate(-90)" class="ct" style="font-size:7.2px;letter-spacing:0.45px">100FC</text>
<text transform="translate(270.82 526.65) rotate(-90)" class="ct" style="font-size:7.2px;letter-spacing:0.45px">75FD+25FC</text>
<text transform="translate(294.07 526.65) rotate(-90)" class="ct" style="font-size:7.2px;letter-spacing:0.45px">25FD+75FC</text>
<text transform="translate(317.32 526.65) rotate(-90)" class="ct" style="font-size:7.2px;letter-spacing:0.45px">50FD+50FC</text>
<text x="117.05" y="581.8" class="gp">MBc(-)</text>
<text x="256.55" y="581.8" class="gp">MBc(+)</text>
<text x="178.2" y="592.7" class="tr" style="font-size:10.6px">Treatments</text>
<text transform="translate(30.23 498.3) rotate(-90)" class="yt" style="font-size:11px">Available P</text>
<text x="22.1" y="588.5" class="pl" style="font-size:13.9px">E</text>
<rect x="354.4" y="404.6" width="320.5" height="192" fill="#fff" stroke="#d6d6d6" stroke-width="0.9"/>
<rect x="399.14" y="483.2" width="11" height="39.3" fill="#ffffff" stroke="#000" stroke-width="0.8"/>
<rect x="421.81" y="462.6" width="11" height="59.9" fill="#4472c4" stroke="#000" stroke-width="0.8"/>
<rect x="444.49" y="449" width="11" height="73.5" fill="#00b050" stroke="#000" stroke-width="0.8"/>
<rect x="467.16" y="468.6" width="11" height="53.9" fill="#7030a0" stroke="#000" stroke-width="0.8"/>
<rect x="489.84" y="454.5" width="11" height="68" fill="#843c0c" stroke="#000" stroke-width="0.8"/>
<rect x="512.51" y="474.8" width="11" height="47.7" fill="#ff0000" stroke="#000" stroke-width="0.8"/>
<rect x="535.19" y="463.2" width="11" height="59.3" fill="#ffffff" stroke="#000" stroke-width="0.8"/>
<rect x="557.86" y="453.3" width="11" height="69.2" fill="#4472c4" stroke="#000" stroke-width="0.8"/>
<rect x="580.54" y="439.2" width="11" height="83.3" fill="#00b050" stroke="#000" stroke-width="0.8"/>
<rect x="603.21" y="442.2" width="11" height="80.3" fill="#7030a0" stroke="#000" stroke-width="0.8"/>
<rect x="625.89" y="451.3" width="11" height="71.2" fill="#843c0c" stroke="#000" stroke-width="0.8"/>
<rect x="648.56" y="450" width="11" height="72.5" fill="#ff0000" stroke="#000" stroke-width="0.8"/>
<path d="M404.64 479.2V487.2M402.44 479.2h4.4M402.44 487.2h4.4" stroke="#000" stroke-width="1.0" fill="none"/>
<text x="404.64" y="477.6" class="lt">d</text>
<path d="M427.31 450.8V474.4M425.11 450.8h4.4M425.11 474.4h4.4" stroke="#000" stroke-width="1.0" fill="none"/>
<text x="427.31" y="449.5" class="lt">a-d</text>
<path d="M449.99 442.5V455.5M447.79 442.5h4.4M447.79 455.5h4.4" stroke="#000" stroke-width="1.0" fill="none"/>
<text x="449.99" y="437.4" class="lt">abc</text>
<path d="M472.66 452.3V484.9M470.46 452.3h4.4M470.46 484.9h4.4" stroke="#000" stroke-width="1.0" fill="none"/>
<text x="472.66" y="446.9" class="lt">bcd</text>
<path d="M495.34 446.8V462.2M493.14 446.8h4.4M493.14 462.2h4.4" stroke="#000" stroke-width="1.0" fill="none"/>
<text x="495.34" y="442.4" class="lt">abc</text>
<path d="M518.01 471.9V477.7M515.81 471.9h4.4M515.81 477.7h4.4" stroke="#000" stroke-width="1.0" fill="none"/>
<text x="518.01" y="469.2" class="lt">cd</text>
<path d="M540.69 452.2V474.2M538.49 452.2h4.4M538.49 474.2h4.4" stroke="#000" stroke-width="1.0" fill="none"/>
<text x="540.69" y="449.5" class="lt">a-d</text>
<path d="M563.36 445.9V460.7M561.16 445.9h4.4M561.16 460.7h4.4" stroke="#000" stroke-width="1.0" fill="none"/>
<text x="563.36" y="442.7" class="lt">abc</text>
<path d="M586.04 429.5V448.9M583.84 429.5h4.4M583.84 448.9h4.4" stroke="#000" stroke-width="1.0" fill="none"/>
<text x="586.04" y="426.2" class="lt">a</text>
<path d="M608.71 432.9V451.5M606.51 432.9h4.4M606.51 451.5h4.4" stroke="#000" stroke-width="1.0" fill="none"/>
<text x="608.71" y="426.7" class="lt">ab</text>
<path d="M631.39 450.3V452.3M629.19 450.3h4.4M629.19 452.3h4.4" stroke="#000" stroke-width="1.0" fill="none"/>
<text x="631.39" y="445.2" class="lt">abc</text>
<path d="M654.06 449V451M651.86 449h4.4M651.86 451h4.4" stroke="#000" stroke-width="1.0" fill="none"/>
<text x="654.06" y="444.4" class="lt">abc</text>
<path d="M393.3 414.3V522.5" stroke="#000" stroke-width="1.5" fill="none"/>
<path d="M393.3 414.3h-2.8" stroke="#000" stroke-width="1.2"/>
<text x="387.2" y="417.15" class="tk" style="font-size:7.8px">700</text>
<path d="M393.3 429.8h-2.8" stroke="#000" stroke-width="1.2"/>
<text x="387.2" y="432.65" class="tk" style="font-size:7.8px">600</text>
<path d="M393.3 445.2h-2.8" stroke="#000" stroke-width="1.2"/>
<text x="387.2" y="448.05" class="tk" style="font-size:7.8px">500</text>
<path d="M393.3 460.7h-2.8" stroke="#000" stroke-width="1.2"/>
<text x="387.2" y="463.55" class="tk" style="font-size:7.8px">400</text>
<path d="M393.3 476.1h-2.8" stroke="#000" stroke-width="1.2"/>
<text x="387.2" y="478.95" class="tk" style="font-size:7.8px">300</text>
<path d="M393.3 491.6h-2.8" stroke="#000" stroke-width="1.2"/>
<text x="387.2" y="494.45" class="tk" style="font-size:7.8px">200</text>
<path d="M393.3 507h-2.8" stroke="#000" stroke-width="1.2"/>
<text x="387.2" y="509.85" class="tk" style="font-size:7.8px">100</text>
<path d="M393.3 522.5h-2.8" stroke="#000" stroke-width="1.2"/>
<text x="387.2" y="525.35" class="tk" style="font-size:7.8px">0</text>
<path d="M392.8 522.5H665.9" stroke="#000" stroke-width="1.5" fill="none"/>
<path d="M393.3 522.5V583.7" stroke="#000" stroke-width="1.35"/>
<path d="M415.98 522.5V569.6" stroke="#000" stroke-width="1.35"/>
<path d="M438.65 522.5V569.6" stroke="#000" stroke-width="1.35"/>
<path d="M461.32 522.5V569.6" stroke="#000" stroke-width="1.35"/>
<path d="M484 522.5V569.6" stroke="#000" stroke-width="1.35"/>
<path d="M506.68 522.5V569.6" stroke="#000" stroke-width="1.35"/>
<path d="M529.35 522.5V583.7" stroke="#000" stroke-width="1.35"/>
<path d="M552.02 522.5V569.6" stroke="#000" stroke-width="1.35"/>
<path d="M574.7 522.5V569.6" stroke="#000" stroke-width="1.35"/>
<path d="M597.38 522.5V569.6" stroke="#000" stroke-width="1.35"/>
<path d="M620.05 522.5V569.6" stroke="#000" stroke-width="1.35"/>
<path d="M642.72 522.5V569.6" stroke="#000" stroke-width="1.35"/>
<path d="M665.4 522.5V583.7" stroke="#000" stroke-width="1.35"/>
<text transform="translate(407.29 527.45) rotate(-90)" class="ct" style="font-size:7.2px;letter-spacing:0.45px">Control</text>
<text transform="translate(429.96 526.65) rotate(-90)" class="ct" style="font-size:7.2px;letter-spacing:0.45px">100FD</text>
<text transform="translate(452.64 526.65) rotate(-90)" class="ct" style="font-size:7.2px;letter-spacing:0.45px">100FC</text>
<text transform="translate(475.31 526.65) rotate(-90)" class="ct" style="font-size:7.2px;letter-spacing:0.45px">75FD+25FC</text>
<text transform="translate(497.99 526.65) rotate(-90)" class="ct" style="font-size:7.2px;letter-spacing:0.45px">25FD+75FC</text>
<text transform="translate(520.66 526.65) rotate(-90)" class="ct" style="font-size:7.2px;letter-spacing:0.45px">50FD+50FC</text>
<text transform="translate(543.34 527.45) rotate(-90)" class="ct" style="font-size:7.2px;letter-spacing:0.45px">Control</text>
<text transform="translate(566.01 526.65) rotate(-90)" class="ct" style="font-size:7.2px;letter-spacing:0.45px">100FD</text>
<text transform="translate(588.69 526.65) rotate(-90)" class="ct" style="font-size:7.2px;letter-spacing:0.45px">100FC</text>
<text transform="translate(611.36 526.65) rotate(-90)" class="ct" style="font-size:7.2px;letter-spacing:0.45px">75FD+25FC</text>
<text transform="translate(634.04 526.65) rotate(-90)" class="ct" style="font-size:7.2px;letter-spacing:0.45px">25FD+75FC</text>
<text transform="translate(656.71 526.65) rotate(-90)" class="ct" style="font-size:7.2px;letter-spacing:0.45px">50FD+50FC</text>
<text x="461.32" y="581.8" class="gp">MBc(-)</text>
<text x="597.38" y="581.8" class="gp">MBc(+)</text>
<text x="519.6" y="592.3" class="tr" style="font-size:10.6px">Treatments</text>
<text transform="translate(369.4 500.4) rotate(-90)" class="yt" style="font-size:10.9px">Available K</text>
<text x="361.4" y="588.5" class="pl" style="font-size:14.5px">F</text>
</svg>
</body>
</html>
